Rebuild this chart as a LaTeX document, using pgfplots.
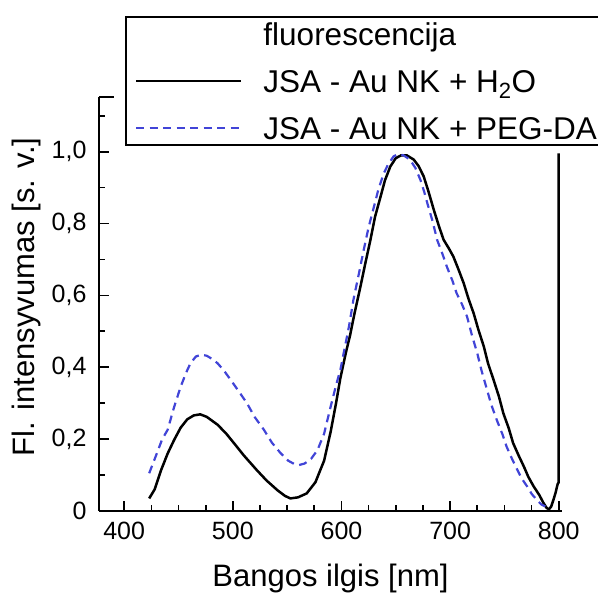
\documentclass[border=0pt]{standalone}
\usepackage{fontspec}
\setmainfont{Liberation Sans}
\usepackage{pgfplots}
\pgfplotsset{compat=1.18}
\definecolor{dblue}{RGB}{65,68,215}
\begin{document}
\begin{tikzpicture}
\useasboundingbox (0pt,0pt) rectangle (598pt,595pt);
\begin{axis}[
  at={(99pt,84pt)}, anchor=south west,
  scale only axis, width=463pt, height=414.3pt,
  xmin=376.8, xmax=803, ymin=0, ymax=1.153,
  axis x line*=bottom, axis y line*=left,
  axis line style={line width=2pt,-},
  tick align=inside,
  major tick length=10pt, minor tick length=6pt,
  major tick style={black, line width=1.7pt},
  minor tick style={black, line width=1.7pt},
  xtick={400,500,600,700,800}, minor x tick num=3,
  ytick={0,0.2,0.4,0.6,0.8,1.0}, minor y tick num=1,
  yticklabels={0,{0,2},{0,4},{0,6},{0,8},{1,0}},
  /pgf/number format/assume math mode=true,
  ticklabel style={font=\fontsize{25}{30}\selectfont},
  xticklabel style={yshift=-7.5pt},
  yticklabel style={xshift=-9pt},
  label style={font=\fontsize{31}{36}\selectfont},
  xlabel={Bangos ilgis [nm]},
  ylabel={Fl. intensyvumas [s. v.]},
  xlabel style={at={(axis description cs:0.5,-0.163)}, anchor=center},
  ylabel style={at={(axis description cs:-0.1574,0.5165)}, anchor=center},
  legend style={at={(axis description cs:0.0561,1.1945)}, anchor=north west,
    draw=black, line width=2pt, fill=white,
    font=\fontsize{31.5}{36}\selectfont,
    nodes={inner sep=0pt, text height=23pt, text depth=1pt},
    inner xsep=9pt, inner ysep=5pt, row sep=23pt, column sep=21pt},
  legend cell align=left,
  legend image code/.code={\draw[#1] (0pt,0pt) -- (105pt,0pt);},
  clip=true,
  after end axis/.code={
    \foreach \xx in {400,500,600,700,800}
      {\draw[black, line width=1.7pt] (axis cs:\xx,0) -- ++(0pt,10pt);}
    \foreach \xx in {425,450,475,525,550,575,625,650,675,725,750,775}
      {\draw[black, line width=1.7pt] (axis cs:\xx,0) -- ++(0pt,6pt);}
    \foreach \yy in {0.2,0.4,0.6,0.8,1.0}
      {\draw[black, line width=1.7pt] (axis cs:376.8,\yy) -- ++(10pt,0pt);}
    \foreach \yy in {0.1,0.3,0.5,0.7,0.9,1.1}
      {\draw[black, line width=1.7pt] (axis cs:376.8,\yy) -- ++(6pt,0pt);}
    \draw[black, line width=1.7pt] (axis cs:376.8,1.153) -- ++(15pt,0pt);
  },
]
\addlegendimage{empty legend}
\addlegendentry{fluorescencija}
\addplot[black, line width=2.5pt, line join=round] coordinates {
(423,0.035) (428,0.06) (434,0.114) (440,0.16) (446,0.198) (452,0.232)
(458,0.255) (464,0.266) (470,0.269) (476,0.262) (486,0.24) (494,0.215)
(501,0.189) (510,0.155) (522,0.114) (531,0.085) (541,0.058) (548,0.042)
(553,0.035) (560,0.038) (568,0.049) (576,0.08) (584,0.14) (590,0.22)
(595,0.3) (599,0.37) (604,0.44) (608,0.49) (612,0.55) (617.5,0.625)
(622,0.69) (626.7,0.755) (631,0.82) (636,0.875) (640,0.92) (645,0.959)
(650,0.982) (655,0.99) (660,0.99) (666.5,0.978) (671,0.96) (675.7,0.931)
(680,0.89) (685,0.838) (690,0.79) (694,0.755) (699,0.73) (703,0.708)
(708,0.67) (712.5,0.634) (717,0.59) (721.7,0.55) (726,0.505) (731,0.458)
(735,0.41) (740,0.365) (745,0.318) (749,0.272) (754,0.23) (758,0.189)
(763,0.155) (768,0.123) (772,0.095) (777,0.068) (782,0.045) (786,0.022)
(789,0.008) (791,0.005) (793,0.012) (795,0.03) (797,0.05) (799,0.075)
(800,0.08) (800,0.995)
};
\addlegendentry{JSA - Au NK + H\textsubscript{2}O}
\addplot[dblue, line width=2.2pt, dash pattern=on 8pt off 5.5pt] coordinates {
(423,0.105) (430,0.16) (435,0.2) (440,0.226) (446,0.29) (452,0.346)
(457,0.385) (461,0.411) (466,0.43) (471,0.435) (476,0.432) (481,0.423)
(486,0.411) (492,0.39) (498,0.365) (505,0.335) (513,0.30) (520,0.262)
(528.6,0.226) (536,0.19) (544,0.161) (551,0.14) (557,0.13) (561,0.128)
(566,0.132) (572,0.145) (578,0.17) (584,0.215) (590,0.29) (595,0.35)
(599,0.393) (602,0.439) (607,0.515) (611,0.588) (616,0.66) (620.5,0.727)
(625,0.79) (630,0.848) (634,0.895) (639,0.94) (643,0.965) (648,0.987)
(652,0.993) (657,0.99) (663,0.978) (668,0.955) (672.6,0.922) (676,0.89)
(679,0.857) (684,0.805) (688,0.755) (693,0.715) (697,0.68) (702,0.642)
(706,0.606) (711,0.575) (715.6,0.541) (720,0.49) (725,0.439) (729,0.39)
(734,0.337) (738,0.295) (743,0.253) (748,0.215) (752,0.179) (757,0.145)
(762,0.114) (766,0.09) (771,0.068) (775,0.048) (780,0.03) (784,0.018)
(788,0.012)
};
\addlegendentry{JSA - Au NK + PEG-DA}
\end{axis}
\end{tikzpicture}
\end{document}
